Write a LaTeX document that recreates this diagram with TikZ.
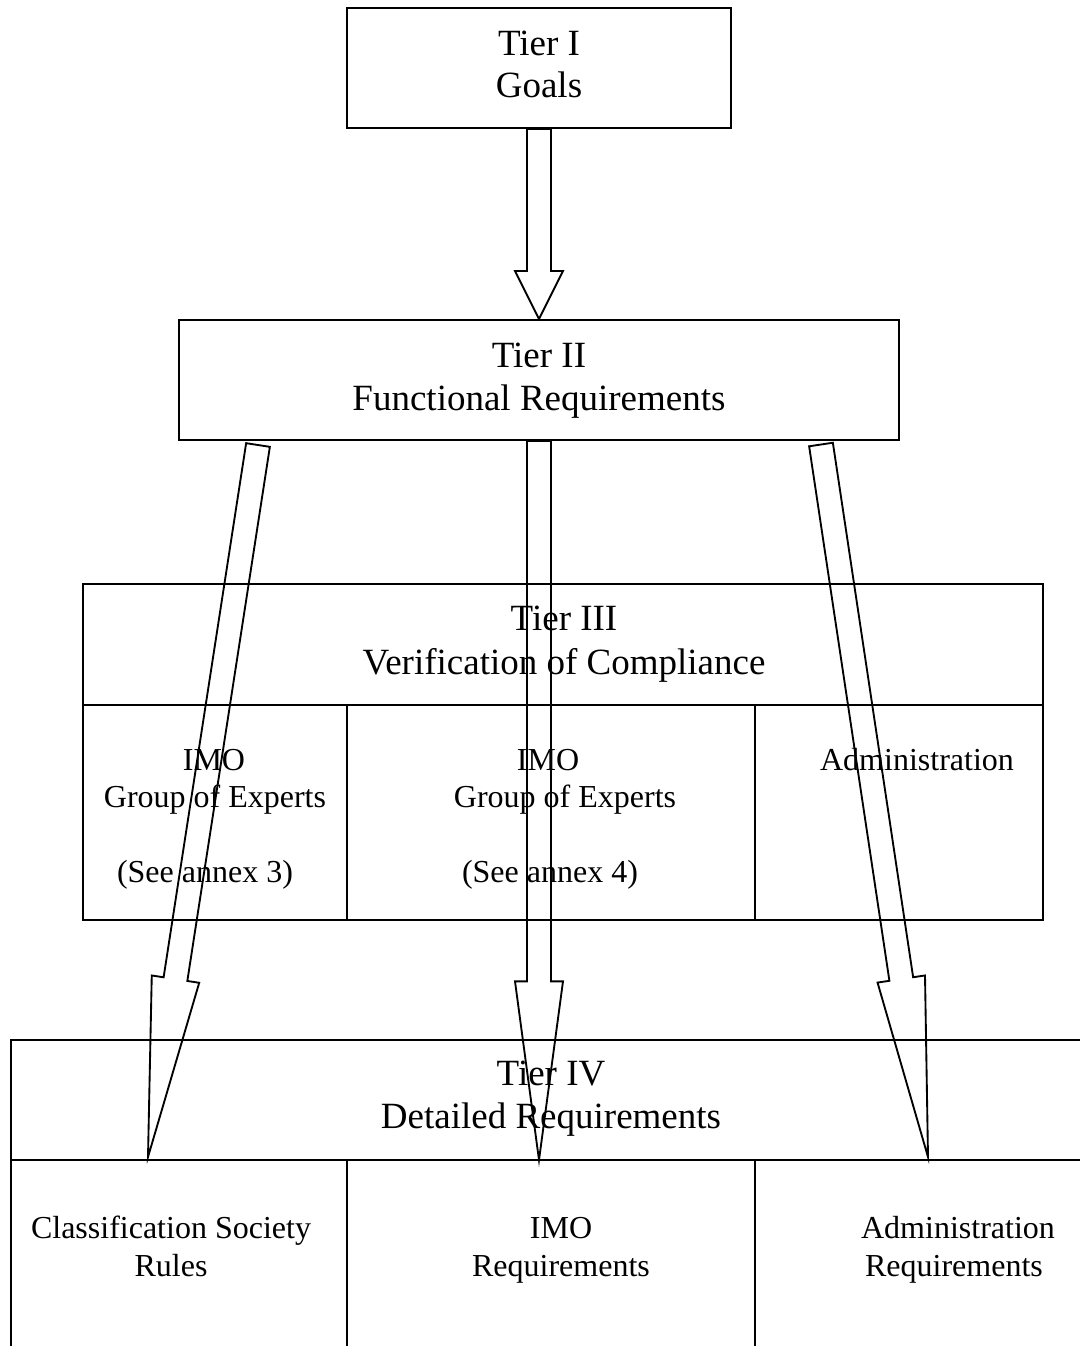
\documentclass[tikz,border=0pt]{standalone}
\usepackage{fontspec}
\setmainfont{Liberation Serif}
\usetikzlibrary{calc}

\tikzset{
  tierbox/.style={draw, line width=1.5pt, inner sep=0pt},
  rule/.style={line width=1.5pt},
  hollow/.style={draw, line width=1.4pt, line join=miter},
  tiertext/.style={anchor=base, inner sep=0pt, font=\fontsize{27.75pt}{32pt}\selectfont},
  celltext/.style={anchor=base, inner sep=0pt, font=\fontsize{24pt}{28pt}\selectfont},
}

% Outlined block arrow: #1 tail centre, #2 tip, #3 head length, #4 name
\newcommand\hollowarrow[4]{%
  \coordinate (#4-hb) at ($(#2)!#3!(#1)$);
  \draw[hollow] ($(#1)!9pt!90:(#2)$) -- ($(#4-hb)!9pt!90:(#2)$)
    -- ($(#4-hb)!18pt!90:(#2)$) -- (#2)
    -- ($(#4-hb)!18pt!-90:(#2)$) -- ($(#4-hb)!9pt!-90:(#2)$)
    -- ($(#1)!9pt!-90:(#2)$) -- cycle;
}

\begin{document}
\begin{tikzpicture}[x=0.75pt, y=-0.75pt]
  \useasboundingbox (0,0) rectangle (1080,1346);
  \clip (0,0) rectangle (1080,1346);

  % Tier boxes
  \node[tierbox, minimum width=288pt, minimum height=90pt] (tier1) at (539,68) {};
  \node[tierbox, minimum width=540pt, minimum height=90pt] (tier2) at (539,380) {};
  \node[tierbox, minimum width=720pt, minimum height=252pt] (tier3) at (563,752) {};
  \node[tierbox, minimum width=810pt, minimum height=247.5pt] (tier4) at (551,1205) {};

  % Tier III header rule and column dividers
  \coordinate (t3rule) at (0,705);
  \coordinate (colA) at (347,0);
  \coordinate (colB) at (755,0);
  \draw[rule] (tier3.west |- t3rule) -- (tier3.east |- t3rule);
  \draw[rule] (colA |- t3rule) -- (colA |- tier3.south);
  \draw[rule] (colB |- t3rule) -- (colB |- tier3.south);

  % Tier IV header rule and column dividers
  \coordinate (t4rule) at (0,1160);
  \draw[rule] (tier4.west |- t4rule) -- (tier4.east |- t4rule);
  \draw[rule] (colA |- t4rule) -- (colA |- tier4.south);
  \draw[rule] (colB |- t4rule) -- (colB |- tier4.south);

  % Labels
  \node[tiertext] (t1a) at (539,55) {Tier I};
  \node[tiertext] (t1b) at (539,97) {Goals};
  \node[tiertext] (t2a) at (539,367) {Tier II};
  \node[tiertext] (t2b) at (539,410) {Functional Requirements};
  \node[tiertext] (t3a) at (564,630) {Tier III};
  \node[tiertext] (t3b) at (564,674) {Verification of Compliance};
  \node[tiertext] (t4a) at (551,1085) {Tier IV};
  \node[tiertext] (t4b) at (551,1128) {Detailed Requirements};

  \node[celltext] (c1a) at (214,770) {IMO};
  \node[celltext] (c1b) at (215,807) {Group of Experts};
  \node[celltext] (c1c) at (205,882) {(See annex 3)};
  \node[celltext] (c2a) at (548,770) {IMO};
  \node[celltext] (c2b) at (565,807) {Group of Experts};
  \node[celltext] (c2c) at (550,882) {(See annex 4)};
  \node[celltext] (c3a) at (917,770) {Administration};

  \node[celltext] (d1a) at (171,1238) {Classification Society};
  \node[celltext] (d1b) at (171,1276) {Rules};
  \node[celltext] (d2a) at (561,1238) {IMO};
  \node[celltext] (d2b) at (561,1276) {Requirements};
  \node[celltext] (d3a) at (958,1238) {Administration};
  \node[celltext] (d3b) at (954,1276) {Requirements};

  % Arrow ends
  \coordinate (left-tail) at (258,445);
  \coordinate (left-tip) at (148,1157);
  \coordinate (right-tail) at (821,444.5);
  \coordinate (right-tip) at (928,1157);
  \coordinate (mid-tip) at (tier2.south |- t4rule);

  % Block arrows
  \hollowarrow{tier1.south}{tier2.north}{36pt}{a1}
  \hollowarrow{tier2.south}{mid-tip}{134pt}{a2}
  \hollowarrow{left-tail}{left-tip}{135pt}{a3}
  \hollowarrow{right-tail}{right-tip}{135pt}{a4}
\end{tikzpicture}
\end{document}
